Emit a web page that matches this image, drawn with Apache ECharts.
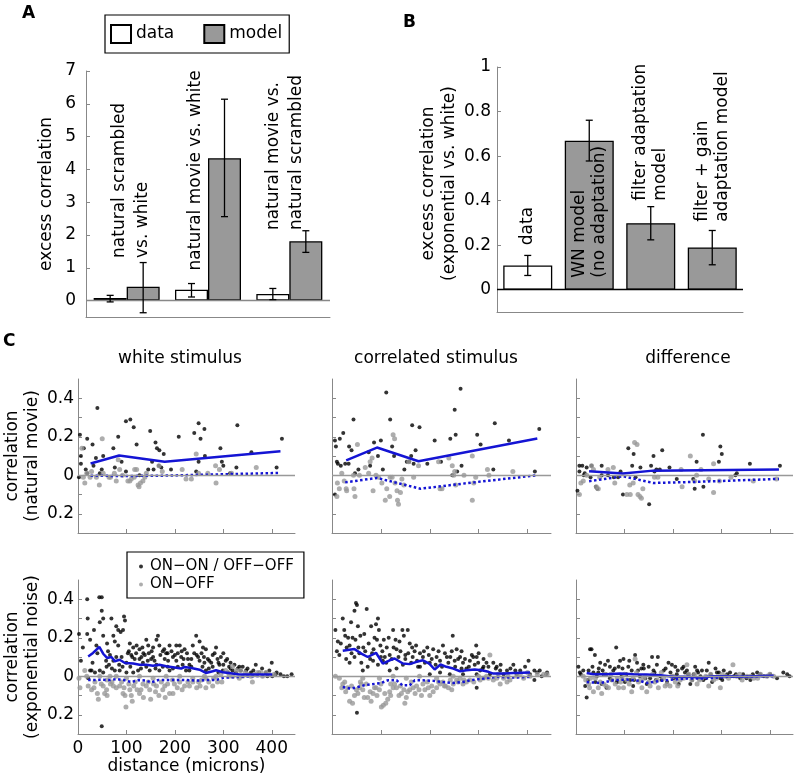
<!DOCTYPE html>
<html>
<head>
<meta charset="utf-8">
<title>excess correlation</title>
<script src="https://cdn.jsdelivr.net/npm/echarts@6/dist/echarts.min.js"></script>
<style>
  html, body { margin: 0; padding: 0; background: #fff; }
  #main { width: 798px; height: 779px; }
</style>
</head>
<body>
<div id="main"></div>
<script>
// ---------- panel A ----------
var aGroups = ['natural scrambled\nvs. white', 'natural movie vs. white', 'natural movie vs.\nnatural scrambled'];
var aData = [0.08, 0.33, 0.20];
var aModel = [0.42, 4.34, 1.81];
var aDataErr = [[-0.04, 0.16], [0.11, 0.52], [0.03, 0.37]];
var aModelErr = [[-0.37, 1.16], [2.56, 6.14], [1.47, 2.13]];
var aLabelY = [1.30, 0.92, 2.15];
var aLabelShift = [0.05, -0.15, -0.05];

// ---------- panel B ----------
var bNames = ['data', 'WN model\n(no adaptation)', 'filter adaptation\nmodel', 'filter + gain\nadaptation model'];
var bValues = [0.109, 0.669, 0.299, 0.19];
var bErr = [[0.064, 0.154], [0.578, 0.761], [0.224, 0.373], [0.112, 0.266]];
var bLabelY = [0.20, 0.054, 0.40, 0.305];

// ---------- panel C : natural movie (top row) ----------
var nmWhiteOn = [[4,0.21],[6,0.10],[6,0.06],[2,-0.01],[12,0.14],[19,0.19],[16,0.03],[19,0.01],[30,0.16],[32,0.05],[37,0.09],[40,0.35],[45,0.01],[49,0.03],[52,0.10],[73,0.14],[76,0.04],[83,0.20],[90,0.07],[99,0.02],[99,0.28],[108,0.29],[115,0.25],[121,0.16],[127,0.00],[145,0.03],[149,0.23],[153,0.07],[156,0.03],[160,0.17],[163,0.14],[168,0.13],[167,0.05],[172,0.04],[177,0.11],[192,0.03],[208,0.20],[240,0.22],[244,0.02],[249,0.07],[249,0.27],[253,0.19],[261,0.24],[262,0.10],[294,0.14],[297,0.07],[300,0.05],[314,0.01],[327,0.04],[329,0.26],[358,0.12],[410,0.04],[421,0.19]];
var nmWhiteOff = [[8,0.14],[11,-0.01],[14,-0.04],[18,0.01],[25,-0.01],[28,0.02],[38,-0.01],[44,-0.05],[50,0.19],[52,0.01],[64,-0.01],[67,-0.01],[75,0.01],[79,-0.03],[83,0.08],[86,0.03],[92,0.00],[103,-0.03],[107,-0.03],[110,-0.02],[116,-0.01],[117,0.03],[121,0.03],[124,-0.05],[126,-0.06],[129,-0.04],[134,-0.03],[138,-0.01],[141,0.01],[167,0.05],[174,0.02],[215,0.03],[223,-0.02],[234,-0.02],[244,0.11],[249,0.01],[268,0.01],[284,0.05],[285,-0.04],[292,0.03],[317,0.01],[368,0.04]];
var nmWhiteMean = [[26,0.061],[85,0.103],[179,0.07],[418,0.125]];
var nmWhiteMeanOff = [[26,-0.002],[85,-0.004],[179,-0.002],[418,0.012]];

var nmCorrOn = [[6,0.18],[8,0.15],[6,-0.10],[10,0.07],[12,0.06],[16,0.19],[18,0.05],[23,0.22],[27,0.06],[34,0.06],[35,0.15],[40,0.13],[44,0.29],[47,0.01],[54,0.03],[75,0.12],[78,0.05],[86,0.17],[94,0.10],[100,0.18],[104,0.03],[111,0.43],[119,0.29],[123,0.15],[127,0.10],[148,0.03],[153,0.07],[158,0.07],[162,0.10],[164,0.26],[167,0.06],[171,0.13],[179,0.25],[195,0.06],[210,0.18],[223,0.07],[242,0.19],[246,0.00],[251,0.34],[253,0.21],[256,0.02],[263,0.45],[265,0.05],[297,0.21],[304,0.16],[330,0.03],[333,0.27],[362,0.18],[415,0.02],[424,0.24]];
var nmCorrOff = [[10,-0.11],[11,-0.04],[15,-0.07],[20,0.01],[25,-0.03],[29,-0.07],[30,-0.08],[44,0.00],[45,-0.07],[47,-0.11],[52,0.16],[56,0.00],[68,0.04],[75,0.01],[78,0.07],[82,0.09],[84,-0.08],[90,0.00],[95,-0.01],[102,-0.04],[109,-0.13],[112,-0.07],[118,-0.11],[119,-0.01],[123,-0.01],[125,0.21],[128,0.19],[129,-0.04],[133,-0.08],[134,-0.13],[136,-0.15],[140,-0.09],[143,-0.02],[147,-0.05],[157,0.07],[167,-0.01],[177,0.05],[218,0.07],[221,-0.07],[225,-0.07],[239,0.09],[246,0.05],[249,0.00],[251,0.02],[253,-0.05],[270,0.00],[287,0.10],[287,-0.13],[290,-0.04],[294,-0.01],[318,0.03],[321,0.00],[370,0.02]];
var nmCorrMean = [[29,0.077],[92,0.144],[177,0.073],[420,0.191]];
var nmCorrMeanOff = [[27,-0.037],[92,-0.014],[181,-0.07],[290,-0.037],[420,0]];

var nmDiffOn = [[3,-0.08],[7,0.02],[7,0.05],[13,0.05],[16,0.00],[18,0.01],[22,0.04],[30,-0.01],[32,0.05],[41,-0.06],[44,-0.07],[53,0.05],[53,0.00],[66,0.00],[78,-0.01],[87,-0.01],[92,0.02],[97,-0.10],[108,0.14],[116,0.05],[119,0.11],[123,-0.01],[133,0.04],[151,-0.15],[155,0.05],[160,0.10],[162,0.02],[166,0.03],[173,0.03],[178,0.13],[193,0.04],[208,-0.02],[242,-0.02],[245,-0.07],[249,0.07],[262,0.21],[263,-0.06],[295,0.07],[298,0.15],[301,0.11],[329,0.00],[332,0.01],[359,0.06],[421,0.05]];
var nmDiffOff = [[7,-0.10],[10,-0.04],[15,-0.03],[22,0.00],[32,0.05],[36,0.03],[42,-0.06],[46,-0.07],[49,-0.01],[66,0.03],[77,0.04],[80,-0.04],[105,-0.10],[112,-0.10],[111,-0.05],[118,-0.04],[121,0.17],[126,0.16],[128,-0.10],[132,-0.11],[135,-0.12],[138,-0.07],[162,-0.01],[169,-0.01],[217,0.03],[219,-0.06],[236,0.10],[245,-0.03],[249,0.00],[258,0.03],[274,-0.02],[284,0.06],[284,-0.09],[296,-0.03],[320,-0.01],[366,-0.03],[414,-0.02]];
var nmDiffMean = [[27,0.021],[97,0.009],[159,0.024],[419,0.03]];
var nmDiffMeanOff = [[27,-0.031],[97,-0.005],[159,-0.04],[241,-0.035],[419,-0.019]];

// ---------- panel C : exponential noise (bottom row) ----------
var exWhiteOn = [[2,0.22],[10,0.15],[6,0.08],[19,0.40],[20,0.30],[19,0.22],[25,0.19],[33,0.24],[38,0.16],[44,0.41],[49,0.41],[49,0.34],[45,0.28],[52,0.30],[52,0.21],[49,-0.26],[28,0.03],[35,0.02],[25,0.03],[45,0.03],[21,-0.01],[69,0.30],[79,0.26],[73,0.21],[83,0.24],[76,0.18],[88,0.23],[95,0.31],[97,0.29],[93,0.24],[66,0.11],[73,0.08],[83,0.16],[90,0.10],[100,0.07],[59,0.05],[76,0.03],[52,0.02],[86,0.03],[107,0.17],[114,0.15],[121,0.16],[127,0.14],[110,0.11],[117,0.09],[131,0.10],[141,0.19],[145,0.16],[155,0.15],[162,0.19],[165,0.21],[168,0.16],[175,0.13],[182,0.12],[189,0.16],[196,0.10],[186,0.08],[151,0.09],[134,0.07],[141,0.05],[162,0.06],[175,0.05],[124,0.03],[148,0.03],[168,0.03],[189,0.03],[114,0.02],[100,0.02],[196,0.04],[203,0.16],[210,0.16],[220,0.14],[227,0.09],[244,0.21],[237,0.16],[251,0.18],[258,0.15],[264,0.14],[251,0.08],[261,0.07],[278,0.11],[285,0.15],[288,0.09],[295,0.10],[305,0.08],[312,0.05],[278,0.05],[223,0.03],[234,0.05],[264,0.03],[299,0.03],[319,0.03],[323,0.06],[309,0.02],[326,0.02],[336,0.03],[347,0.03],[357,0.02],[367,0.06],[374,0.02],[388,0.02],[400,0.07],[391,0.00],[401,0.00],[408,0.01],[418,0.01],[425,0.00],[432,0.00],[441,0.01],[79,0.10],[103,0.12],[127,0.09],[155,0.10],[203,0.08],[213,0.10],[234,0.09],[271,0.08],[292,0.06],[333,0.05],[62,0.13],[135,0.12],[179,0.09],[216,0.06],[245,0.11],[60,0.17],[40,0.12],[30,0.07],
  [105,0.13],[112,0.10],[120,0.12],[133,0.15],[138,0.11],[146,0.12],[152,0.13],[158,0.08],[170,0.11],[178,0.14],[185,0.12],[193,0.13],[200,0.11],[206,0.12],[214,0.13],[218,0.09],[225,0.12],[230,0.06],[240,0.12],[248,0.10],[255,0.12],[260,0.10],[268,0.09],[275,0.07],[282,0.12],[290,0.07],[300,0.06],[308,0.09],[315,0.07],[330,0.04],[340,0.05],[350,0.04],[362,0.03],[380,0.04],[395,0.03],[410,0.02],[58,0.08],[64,0.06],[70,0.04],[85,0.06],[92,0.05],[108,0.05],[130,0.04],[144,0.08],[160,0.04],[185,0.05],[206,0.05],[230,0.03],[257,0.05],[270,0.04],[290,0.02],[300,0.12],[315,0.04]];
var exWhiteOff = [[2,-0.01],[4,-0.06],[18,0.00],[21,-0.05],[28,-0.07],[33,-0.06],[40,-0.09],[42,-0.12],[35,-0.03],[52,-0.05],[55,-0.09],[59,-0.07],[67,-0.04],[73,-0.05],[79,-0.06],[90,-0.03],[93,-0.09],[97,-0.10],[107,-0.07],[110,-0.10],[112,-0.13],[99,-0.16],[122,-0.07],[127,-0.09],[134,-0.04],[141,-0.05],[148,-0.07],[156,-0.04],[162,-0.05],[167,-0.10],[179,-0.05],[189,-0.09],[196,-0.09],[199,-0.04],[210,-0.03],[220,-0.05],[227,-0.03],[237,-0.03],[249,-0.03],[261,0.00],[264,-0.06],[278,-0.05],[288,-0.03],[297,-0.03],[305,0.03],[319,0.05],[327,0.03],[340,0.00],[357,0.00],[360,-0.03],[371,0.02],[381,0.00],[388,0.02],[14,0.03],[45,0.00],[66,0.00],[79,0.00],[100,-0.01],[127,0.00],[155,-0.01],[182,0.00],[210,0.00],[237,-0.01],[264,-0.01],[285,0.00],[312,0.00],[333,-0.01],[350,0.01],[48,-0.04],[86,-0.05],[118,-0.03],[172,-0.03],[205,-0.06],[252,-0.05],
  [60,-0.02],[70,-0.03],[95,-0.06],[105,-0.04],[115,-0.05],[130,-0.07],[145,-0.03],[160,-0.08],[175,-0.07],[185,-0.04],[195,-0.02],[215,-0.07],[230,-0.05],[245,-0.06],[255,-0.02],[270,-0.03],[280,-0.01],[295,0.01],[310,0.02],[320,0.00],[335,0.03],[345,0.02],[365,0.01],[378,0.02],[395,0.01],[405,0.01],[60,-0.10],[135,-0.11],[150,-0.12],[180,-0.11]];
var exWhiteMean = [[21,0.103],[31,0.121],[44,0.152],[52,0.117],[60,0.095],[69,0.1],[76,0.078],[86,0.086],[97,0.069],[114,0.066],[127,0.06],[141,0.06],[155,0.055],[168,0.06],[182,0.052],[196,0.047],[213,0.04],[220,0.048],[234,0.043],[251,0.034],[264,0.017],[278,0.026],[285,0.031],[299,0.021],[319,0.014],[333,0.009],[360,0.009],[401,0.009]];
var exWhiteMeanOff = [[21,-0.02],[35,-0.02],[50,-0.018],[65,-0.02],[80,-0.015],[95,-0.02],[110,-0.03],[125,-0.02],[140,-0.022],[151,-0.032],[165,-0.02],[185,-0.02],[205,-0.02],[225,-0.02],[245,-0.022],[265,-0.02],[285,-0.02],[300,-0.008],[330,-0.004],[360,0],[400,0.003]];

var exCorrOn = [[7,0.24],[10,0.13],[12,0.18],[22,0.30],[25,0.24],[27,0.21],[18,0.17],[36,0.16],[39,0.28],[46,0.34],[49,0.38],[51,0.37],[53,0.26],[54,0.15],[29,0.09],[36,0.07],[46,0.10],[56,0.12],[60,0.07],[66,0.22],[71,0.35],[75,0.17],[80,0.26],[87,0.20],[90,0.27],[94,0.30],[96,0.24],[99,0.16],[103,0.13],[63,0.03],[73,0.05],[84,0.08],[94,0.06],[104,0.08],[111,0.07],[118,0.11],[125,0.24],[126,0.15],[132,0.14],[138,0.18],[144,0.24],[147,0.21],[155,0.24],[159,0.17],[164,0.15],[169,0.13],[174,0.08],[118,0.03],[132,0.04],[145,0.06],[162,0.07],[176,0.05],[186,0.10],[190,0.07],[200,0.07],[207,0.14],[214,0.10],[221,0.08],[227,0.16],[231,0.12],[238,0.07],[247,0.21],[251,0.08],[255,0.14],[262,0.10],[268,0.07],[275,0.04],[282,0.08],[286,0.11],[289,0.10],[295,0.16],[296,0.10],[299,0.07],[303,0.03],[310,0.05],[316,0.07],[330,0.07],[337,0.05],[344,0.03],[358,0.03],[371,0.06],[375,0.03],[402,0.08],[414,0.03],[425,0.03],[438,0.01],[200,0.01],[221,0.02],[241,0.01],[268,0.01],[296,0.01],[323,0.01],[351,0.01],[378,0.01],[405,0.01],[429,0.00],[51,-0.19],[296,-0.06],[414,-0.02],[15,0.11],[42,0.20],[64,0.15],[82,0.12],[108,0.10],[150,0.11],[180,0.12],[198,0.11],[242,0.10],[265,0.13],[310,0.09],
  [30,0.15],[33,0.20],[40,0.12],[48,0.19],[58,0.21],[68,0.13],[78,0.09],[85,0.14],[92,0.19],[100,0.10],[106,0.19],[112,0.15],[116,0.20],[122,0.09],[130,0.19],[136,0.10],[140,0.13],[150,0.09],[156,0.12],[165,0.10],[172,0.16],[180,0.05],[188,0.13],[195,0.15],[204,0.09],[212,0.06],[218,0.13],[225,0.05],[235,0.10],[245,0.13],[252,0.05],[258,0.09],[265,0.04],[272,0.09],[280,0.05],[292,0.06],[300,0.12],[308,0.04],[320,0.05],[335,0.04],[345,0.06],[365,0.04],[385,0.03],[395,0.05],[420,0.02],[440,0.02]];
var exCorrOff = [[7,0.00],[15,-0.01],[22,-0.04],[32,-0.06],[36,-0.13],[42,-0.14],[46,-0.10],[53,-0.09],[56,-0.06],[63,-0.07],[66,-0.11],[73,-0.11],[80,-0.13],[87,-0.06],[90,-0.06],[97,-0.07],[101,-0.16],[105,-0.15],[110,-0.14],[114,-0.12],[118,-0.08],[125,-0.06],[132,-0.06],[137,-0.10],[142,-0.09],[147,-0.07],[149,-0.14],[152,-0.11],[159,-0.07],[166,-0.06],[173,-0.05],[183,-0.10],[190,-0.07],[197,-0.06],[200,-0.10],[207,-0.08],[214,-0.06],[221,-0.04],[227,-0.03],[238,-0.06],[245,-0.07],[248,-0.04],[255,-0.02],[262,-0.01],[268,-0.04],[275,-0.03],[282,-0.02],[303,-0.02],[310,-0.01],[316,0.00],[323,0.11],[330,-0.02],[337,-0.01],[344,-0.04],[351,-0.01],[358,-0.03],[364,-0.02],[378,0.00],[392,-0.01],[405,0.00],[433,0.01],[440,0.01],[125,0.00],[152,-0.01],[179,0.00],[214,-0.01],[248,0.00],[63,-0.01],[97,-0.01],[28,-0.08],[60,-0.04],[84,-0.09],[120,-0.04],[170,-0.09],[230,-0.05],
  [20,-0.06],[26,-0.03],[40,-0.05],[50,-0.07],[58,-0.03],[70,-0.04],[78,-0.08],[92,-0.10],[100,-0.04],[108,-0.09],[120,-0.10],[128,-0.04],[140,-0.05],[155,-0.08],[162,-0.03],[178,-0.07],[186,-0.04],[195,-0.03],[204,-0.05],[218,-0.03],[232,-0.05],[242,-0.02],[258,-0.03],[270,-0.02],[290,-0.03],[300,0.00],[320,-0.01],[340,0.01],[360,0.00],[385,0.01],[400,0.02],[420,0.01]];
var exCorrMean = [[22,0.132],[46,0.141],[60,0.118],[73,0.1],[90,0.122],[104,0.066],[118,0.083],[128,0.092],[145,0.066],[159,0.063],[173,0.075],[186,0.083],[199,0.066],[210,0.035],[222,0.061],[234,0.049],[248,0.04],[262,0.026],[275,0.031],[292,0.035],[306,0.031],[320,0.023],[330,0.014],[351,0.014],[371,0.017],[405,0.019]];
var exCorrMeanOff = [[22,-0.056],[39,-0.064],[53,-0.056],[66,-0.047],[80,-0.042],[101,-0.035],[114,-0.021],[132,-0.021],[144,-0.047],[159,-0.047],[169,-0.021],[186,-0.021],[207,-0.024],[227,-0.03],[248,-0.035],[268,-0.03],[282,-0.021],[310,-0.012],[337,-0.003],[371,-0.007],[405,-0.003]];

var exDiffOn = [[5,0.05],[8,0.02],[19,-0.05],[22,-0.11],[29,0.14],[32,0.14],[39,0.11],[36,0.02],[43,0.00],[50,0.07],[53,-0.04],[60,0.06],[63,-0.06],[70,0.05],[77,0.03],[83,0.15],[88,0.05],[91,0.08],[94,0.00],[98,0.09],[101,-0.03],[108,0.05],[115,0.03],[122,0.11],[126,0.07],[132,0.00],[139,0.06],[146,-0.04],[157,0.10],[160,0.03],[169,0.10],[174,0.00],[181,0.03],[188,-0.03],[191,0.07],[198,0.06],[205,0.05],[212,-0.04],[219,0.04],[229,0.03],[236,-0.04],[243,0.01],[246,0.05],[257,0.00],[270,0.03],[274,0.07],[281,-0.03],[291,0.02],[298,-0.01],[305,0.03],[312,0.01],[326,0.00],[339,-0.01],[360,-0.02],[374,0.02],[388,0.00],[401,0.01],[415,-0.01],[428,0.02],[436,0.01],[441,0.00],[57,0.01],[70,-0.01],[112,-0.02],[153,-0.01],[208,0.01],[263,-0.02],[26,0.03],[47,0.04],[84,-0.03],[118,-0.05],[140,0.04],[165,-0.02],[225,0.02],[250,0.03],
  [10,0.01],[15,0.03],[25,-0.02],[34,0.05],[40,-0.03],[46,0.02],[55,0.03],[62,0.01],[66,0.08],[73,-0.02],[80,0.04],[85,-0.03],[96,0.04],[104,0.01],[110,0.08],[120,-0.02],[128,0.03],[135,0.04],[143,-0.01],[150,0.05],[162,0.02],[167,0.06],[177,-0.02],[185,0.04],[195,0.02],[202,-0.01],[210,0.03],[222,0.05],[232,0.01],[240,-0.02],[252,0.02],[260,0.03],[268,-0.01],[278,0.01],[288,0.04],[295,0.02],[302,-0.02],[318,0.02],[330,0.01],[345,0.01],[352,-0.01],[365,0.01],[380,0.01],[395,0.00]];
var exDiffOff = [[15,0.00],[26,-0.04],[36,-0.08],[46,-0.06],[53,-0.09],[57,-0.04],[67,-0.06],[74,-0.02],[81,-0.04],[88,-0.06],[98,-0.06],[105,-0.02],[115,-0.08],[122,0.09],[129,-0.03],[136,-0.06],[146,-0.08],[153,-0.05],[163,-0.03],[170,-0.06],[181,-0.01],[188,-0.04],[194,-0.05],[205,-0.03],[215,-0.02],[229,0.06],[239,-0.02],[250,-0.04],[260,-0.01],[274,-0.05],[284,-0.02],[298,-0.06],[308,0.00],[324,0.06],[332,0.00],[343,-0.02],[353,0.00],[367,-0.01],[381,0.01],[394,0.00],[408,0.00],[30,-0.01],[60,0.01],[95,-0.01],[140,-0.01],[200,0.00],[255,-0.01],
  [20,-0.02],[28,-0.06],[40,-0.01],[50,-0.03],[62,-0.05],[72,0.01],[85,-0.01],[92,-0.03],[100,0.01],[110,-0.04],[118,-0.01],[125,0.02],[133,-0.02],[142,0.00],[150,-0.03],[158,0.01],[168,-0.02],[176,0.02],[184,-0.05],[198,0.00],[210,-0.05],[222,-0.01],[233,0.01],[245,0.01],[255,-0.02],[268,0.00],[278,0.01],[290,-0.01],[302,0.01],[315,-0.01],[338,0.01],[360,0.00],[375,-0.01],[400,0.01]];
var exDiffMean = [[22,0.017],[36,0.01],[63,0.01],[91,0.014],[119,0.01],[146,0.009],[174,0.005],[201,-0.003],[229,-0.003],[257,-0.007],[284,0],[312,0],[339,-0.003],[367,0],[408,0.002]];
var exDiffMeanOff = [[22,-0.03],[50,-0.035],[77,-0.021],[105,-0.017],[132,-0.024],[146,-0.035],[174,-0.024],[201,-0.017],[229,-0.012],[257,-0.012],[284,-0.009],[312,-0.003],[339,-0.003],[380,0],[408,0]];

var cYTicks = [-0.2, -0.1, 0, 0.1, 0.2, 0.3, 0.4];
var cYLabels = [-0.2, 0, 0.2, 0.4];
var cXTicks = [100, 200, 300, 400];
var cXLabels = [0, 100, 200, 300, 400];

var FONT = 'DejaVu Sans';
var axisCol = '#888';
var blue = '#1414d4';
var ON = 'ON\u2212ON / OFF\u2212OFF';
var OFF = 'ON\u2212OFF';

var panels = [
  { on: nmWhiteOn, off: nmWhiteOff, mean: nmWhiteMean, meanOff: nmWhiteMeanOff },
  { on: nmCorrOn, off: nmCorrOff, mean: nmCorrMean, meanOff: nmCorrMeanOff },
  { on: nmDiffOn, off: nmDiffOff, mean: nmDiffMean, meanOff: nmDiffMeanOff },
  { on: exWhiteOn, off: exWhiteOff, mean: exWhiteMean, meanOff: exWhiteMeanOff },
  { on: exCorrOn, off: exCorrOff, mean: exCorrMean, meanOff: exCorrMeanOff },
  { on: exDiffOn, off: exDiffOff, mean: exDiffMean, meanOff: exDiffMeanOff }
];

var txt = { fontFamily: FONT, fontSize: 17, color: '#000' };

function errSeries(idx, errs, shift) {
  return {
    type: 'custom', xAxisIndex: idx, yAxisIndex: idx, silent: true, z: 5,
    data: errs.map(function (e, i) { return [i, e[0], e[1]]; }),
    encode: { x: 0, y: [1, 2] },
    renderItem: function (params, api) {
      var lo = api.coord([api.value(0), api.value(1)]);
      var hi = api.coord([api.value(0), api.value(2)]);
      var x = lo[0] + shift, c = 3.5;
      var st = { stroke: '#000', lineWidth: 1.3 };
      return { type: 'group', children: [
        { type: 'line', shape: { x1: x, y1: lo[1], x2: x, y2: hi[1] }, style: st },
        { type: 'line', shape: { x1: x - c, y1: lo[1], x2: x + c, y2: lo[1] }, style: st },
        { type: 'line', shape: { x1: x - c, y1: hi[1], x2: x + c, y2: hi[1] }, style: st }
      ] };
    }
  };
}

function labelSeries(idx, texts, ys, shifts, lh) {
  return {
    type: 'custom', xAxisIndex: idx, yAxisIndex: idx, silent: true, z: 6,
    data: ys.map(function (y, i) { return [i, y, shifts ? shifts[i] : 0]; }),
    encode: { x: 0, y: 1 },
    renderItem: function (params, api) {
      var p = api.coord([api.value(0), api.value(1)]);
      var band = api.size([1, 0])[0];
      return {
        type: 'text', x: p[0] + api.value(2) * band, y: p[1], rotation: Math.PI / 2,
        style: { text: texts[params.dataIndex], font: '17px ' + FONT, fill: '#000',
                 align: 'left', verticalAlign: 'middle', lineHeight: lh }
      };
    }
  };
}

var grids = [
  { left: 86, top: 71, width: 244, height: 246 },
  { left: 497, top: 67, width: 246, height: 245 }
];
var cLeft = [78, 332, 576], cWidth = [217, 219, 217], cTop = [379, 580];
for (var r = 0; r < 2; r++) {
  for (var c = 0; c < 3; c++) {
    grids.push({ left: cLeft[c], top: cTop[r], width: cWidth[c], height: 154 });
  }
}

var xAxes = [
  { gridIndex: 0, type: 'category', data: aGroups,
    axisLine: { onZero: false, lineStyle: { color: axisCol } },
    axisTick: { alignWithLabel: true, inside: true, length: 4, lineStyle: { color: axisCol } },
    axisLabel: { show: false } },
  { gridIndex: 1, type: 'category', data: bNames,
    axisLine: { onZero: false, lineStyle: { color: axisCol } },
    axisTick: { show: false }, axisLabel: { show: false } }
];
var yAxes = [
  { gridIndex: 0, type: 'value', min: -0.5, max: 7,
    axisLine: { show: true, lineStyle: { color: axisCol } },
    axisTick: { show: true, inside: true, length: 4, customValues: [0, 1, 2, 3, 4, 5, 6, 7], lineStyle: { color: axisCol } },
    axisLabel: Object.assign({ customValues: [0, 1, 2, 3, 4, 5, 6, 7], margin: 10 }, txt),
    splitLine: { show: false },
    name: 'excess correlation', nameLocation: 'middle', nameGap: 31, nameTextStyle: txt },
  { gridIndex: 1, type: 'value', min: -0.1, max: 1,
    axisLine: { show: true, lineStyle: { color: axisCol } },
    axisTick: { show: true, inside: true, length: 4, customValues: [0, 0.2, 0.4, 0.6, 0.8, 1], lineStyle: { color: axisCol } },
    axisLabel: Object.assign({ customValues: [0, 0.2, 0.4, 0.6, 0.8, 1], margin: 6 }, txt),
    splitLine: { show: false },
    name: 'excess correlation\n(exponential vs. white)', nameLocation: 'middle', nameGap: 37,
    nameTextStyle: Object.assign({ lineHeight: 21, padding: [0, 0, 0, 12] }, txt) }
];

var yNames = ['correlation\n(natural movie)', 'correlation\n(exponential noise)'];
for (var k = 0; k < 6; k++) {
  var gi = k + 2, row = Math.floor(k / 3), col = k % 3;
  xAxes.push({
    gridIndex: gi, type: 'value', min: 0, max: 448,
    axisLine: { onZero: false, lineStyle: { color: axisCol } },
    axisTick: { inside: true, length: 4, customValues: cXTicks, lineStyle: { color: axisCol } },
    axisLabel: Object.assign({ show: row === 1 && col === 0, customValues: cXLabels, margin: 6 }, txt),
    splitLine: { show: false },
    name: (row === 1 && col === 0) ? 'distance (microns)' : '',
    nameLocation: 'middle', nameGap: 24, nameTextStyle: txt
  });
  yAxes.push({
    gridIndex: gi, type: 'value', min: -0.3, max: 0.5,
    axisLine: { show: true, onZero: false, lineStyle: { color: axisCol } },
    axisTick: { show: true, inside: true, length: 4, customValues: cYTicks, lineStyle: { color: axisCol } },
    axisLabel: Object.assign({ show: col === 0, customValues: cYLabels, margin: 4,
      formatter: function (v) { return String(Math.abs(v)); } }, txt),
    splitLine: { show: false },
    name: col === 0 ? yNames[row] : '', nameLocation: 'middle', nameGap: 35,
    nameTextStyle: Object.assign({ lineHeight: 20 }, txt)
  });
}

var zeroLine = function (color) {
  return { silent: true, symbol: ['none', 'none'], label: { show: false },
           lineStyle: { color: color, width: 1.3, type: 'solid' }, data: [{ yAxis: 0 }] };
};

var series = [
  { name: 'data', type: 'bar', xAxisIndex: 0, yAxisIndex: 0, data: aData, barWidth: 33, barGap: '0%',
    itemStyle: { color: '#fff', borderColor: '#000', borderWidth: 1.3 } },
  { name: 'model', type: 'bar', xAxisIndex: 0, yAxisIndex: 0, data: aModel, barWidth: 33, barGap: '0%',
    itemStyle: { color: '#999', borderColor: '#000', borderWidth: 1.3 }, markLine: zeroLine('#888') },
  errSeries(0, aDataErr, -16.5),
  errSeries(0, aModelErr, 16.5),
  labelSeries(0, aGroups, aLabelY, aLabelShift, 23),
  { name: 'B', type: 'bar', xAxisIndex: 1, yAxisIndex: 1, barWidth: 49,
    data: bValues.map(function (v, i) { return { value: v, itemStyle: { color: i === 0 ? '#fff' : '#999' } }; }),
    itemStyle: { borderColor: '#000', borderWidth: 1.3 }, markLine: zeroLine('#000') },
  errSeries(1, bErr, 0),
  labelSeries(1, bNames, bLabelY, null, 20)
];

panels.forEach(function (p, k) {
  var gi = k + 2;
  series.push({ type: 'line', xAxisIndex: gi, yAxisIndex: gi, data: [], z: 1, markLine: zeroLine('#999') });
  series.push({ name: ON, type: 'scatter', xAxisIndex: gi, yAxisIndex: gi, data: p.on, symbolSize: 4,
    itemStyle: { color: '#000' }, z: 2 });
  series.push({ name: OFF, type: 'scatter', xAxisIndex: gi, yAxisIndex: gi, data: p.off, symbolSize: 5,
    itemStyle: { color: '#999' }, z: 2 });
  series.push({ type: 'line', xAxisIndex: gi, yAxisIndex: gi, data: p.mean, showSymbol: false, z: 3,
    lineStyle: { color: blue, width: 2.5 } });
  series.push({ type: 'line', xAxisIndex: gi, yAxisIndex: gi, data: p.meanOff, showSymbol: false, z: 3,
    lineStyle: { color: blue, width: 2.5, type: 'dotted' } });
});

var chart = echarts.init(document.getElementById('main'));
chart.setOption({
  animation: false,
  grid: grids,
  xAxis: xAxes,
  yAxis: yAxes,
  legend: [
    { data: ['data', 'model'], left: 105, top: 15, padding: [9, 7, 9, 5], itemGap: 29,
      itemWidth: 20, itemHeight: 18, icon: 'rect', selectedMode: false,
      borderColor: '#000', borderWidth: 1.2, textStyle: txt },
    { data: [ON, OFF], orient: 'vertical', left: 127, top: 552, padding: [6, 10, 5, 12], itemGap: 1,
      itemWidth: 4, itemHeight: 4, selectedMode: false, borderColor: '#000', borderWidth: 1.2,
      backgroundColor: '#fff',
      textStyle: { fontFamily: FONT, fontSize: 15, lineHeight: 17, color: '#000', padding: [0, 0, 0, 2] } }
  ],
  graphic: [
    { type: 'text', x: 22, y: 14, style: { text: 'A', font: 'bold 17px ' + FONT, fill: '#000', verticalAlign: 'middle' } },
    { type: 'text', x: 403, y: 23, style: { text: 'B', font: 'bold 17px ' + FONT, fill: '#000', verticalAlign: 'middle' } },
    { type: 'text', x: 3, y: 342, style: { text: 'C', font: 'bold 17px ' + FONT, fill: '#000', verticalAlign: 'middle' } },
    { type: 'text', x: 180, y: 359, style: { text: 'white stimulus', font: '17px ' + FONT, fill: '#000', align: 'center', verticalAlign: 'middle' } },
    { type: 'text', x: 436, y: 359, style: { text: 'correlated stimulus', font: '17px ' + FONT, fill: '#000', align: 'center', verticalAlign: 'middle' } },
    { type: 'text', x: 688, y: 359, style: { text: 'difference', font: '17px ' + FONT, fill: '#000', align: 'center', verticalAlign: 'middle' } }
  ],
  series: series
});
</script>
</body>
</html>
